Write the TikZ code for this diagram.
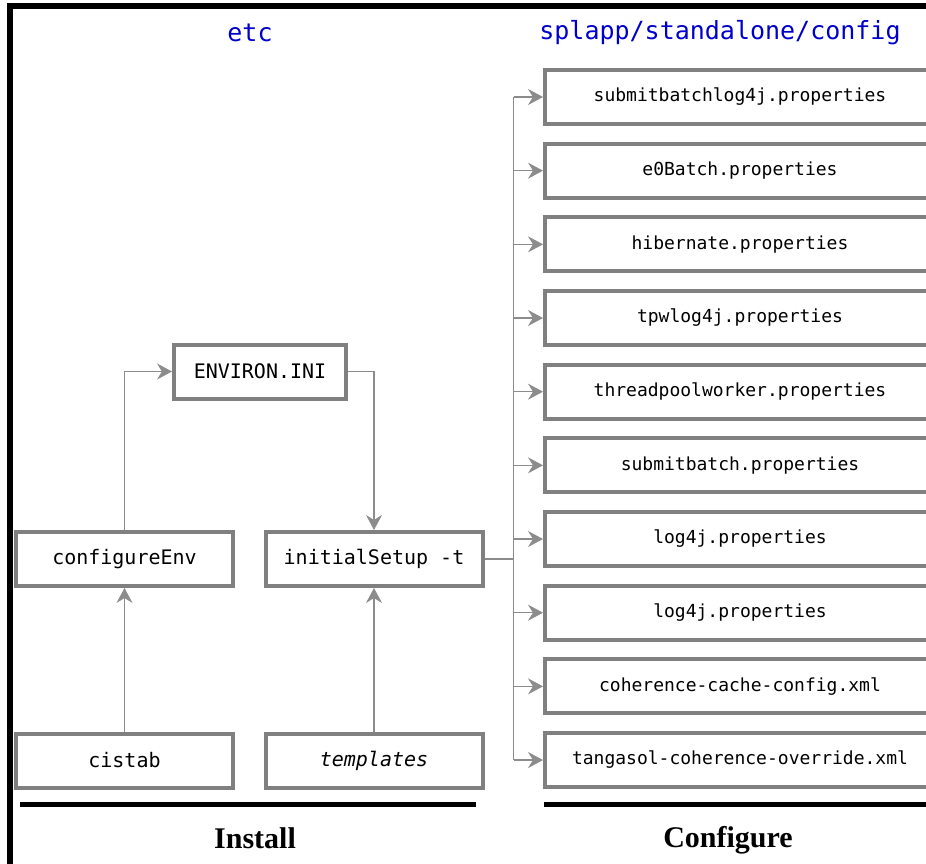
\documentclass[tikz,border=0pt]{standalone}
\usepackage{fontspec}
\setmainfont{Liberation Serif}
\setmonofont{DejaVu Sans Mono}
\usetikzlibrary{arrows.meta}
\definecolor{boxgray}{HTML}{808080}
\definecolor{linkgray}{HTML}{8C8C8C}
\definecolor{dirblue}{HTML}{0000CC}
\tikzset{
  filebox/.style={draw=boxgray,line width=4pt,fill=white,inner sep=0pt,font=\ttfamily\fontsize{20}{24}\selectfont},
  leftbox/.style={filebox,minimum width=217pt,minimum height=54pt},
  cfgbox/.style={filebox,minimum width=390pt,minimum height=54pt,font=\ttfamily\fontsize{18}{22}\selectfont},
  link/.style={draw=linkgray,line width=1.3pt},
  conn/.style={link,-{Stealth[length=15pt,width=16pt,inset=5pt,line width=1pt]}},
  dirlabel/.style={text=dirblue,font=\ttfamily\fontsize{25}{30}\selectfont},
  phase/.style={font=\bfseries\fontsize{30}{36}\selectfont}
}
\begin{document}
\begin{tikzpicture}[x=1pt,y=-1pt]
\useasboundingbox (0,0) rectangle (926,864);
\draw[line width=6pt,line join=miter] (10,880) -- (10,6.5) -- (940,6.5);
\node[dirlabel] (etcdir) at (250,33) {etc};
\node[dirlabel] (cfgdir) at (720,33) {splapp/standalone/config};
\node[leftbox,minimum width=172pt] (environ) at (260,371.5) {ENVIRON.INI};
\node[leftbox] (configenv) at (124.5,559) {configureEnv};
\node[leftbox] (initsetup) at (374,559) {initialSetup -t};
\node[leftbox] (cistab) at (124.5,760.5) {cistab};
\node[leftbox] (templates) at (374,760.5) {\itshape templates};
\foreach \name [count=\i] in {submitbatchlog4j.properties,e0Batch.properties,hibernate.properties,tpwlog4j.properties,threadpoolworker.properties,submitbatch.properties,log4j.properties,log4j.properties,coherence-cache-config.xml,tangasol-coherence-override.xml}
  \node[cfgbox] (cfg\i) at (740,{97+73.67*(\i-1)}) {\name};
\draw[conn] (cistab) -- (configenv);
\draw[conn] (templates) -- (initsetup);
\draw[conn] (configenv.north) |- (environ.west);
\draw[conn] (environ.east) -| (initsetup.north);
\draw[link] (initsetup.east) -- ++(29,0) coordinate (trunk);
\draw[link] (trunk |- cfg1.west) -- (trunk |- cfg10.west);
\foreach \i in {1,...,10}
  \draw[conn] (trunk |- cfg\i.west) -- (cfg\i.west);
\coordinate (installL) at (20,804.5);
\coordinate (installR) at (476,804.5);
\coordinate (configL) at (544,804.5);
\coordinate (configR) at (940,804.5);
\draw[line width=5pt] (installL) -- (installR);
\draw[line width=5pt] (configL) -- (configR);
\node[phase] (install) at (255,838) {Install};
\node[phase] (configure) at (728,840) {Configure};
\end{tikzpicture}
\end{document}
